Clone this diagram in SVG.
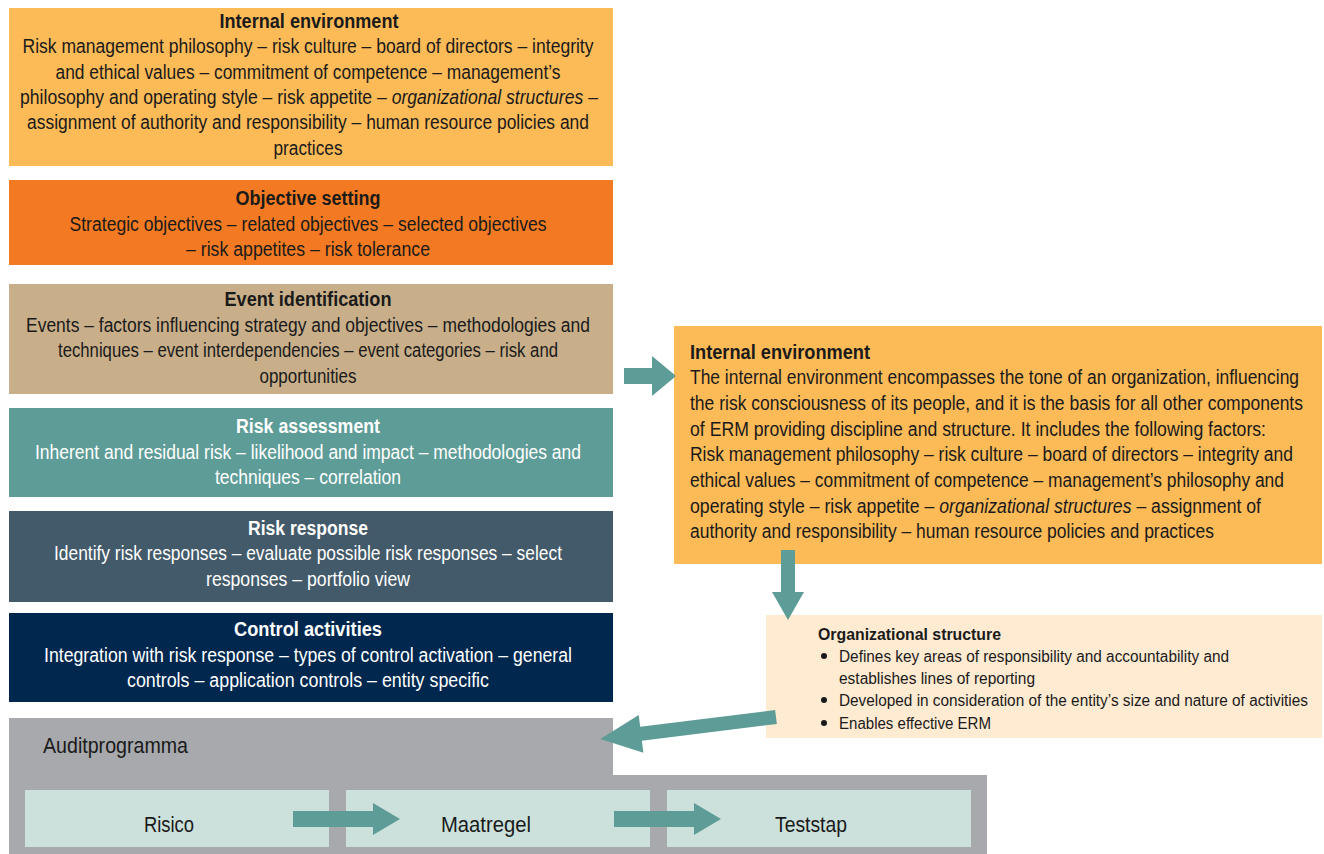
<svg xmlns="http://www.w3.org/2000/svg" width="1324" height="854" viewBox="0 0 1324 854">
  <style>
    text { font-family: "Liberation Sans", Arial, sans-serif; font-size: 19.5px; fill: #1a1a1a; }
    .c { text-anchor: middle; }
    .t { font-weight: bold; }
    .w { fill: #ffffff; }
    .i { font-style: italic; }
    .sm { font-size: 16px; }
    .lg { font-size: 21.5px; }
    .arrow { fill: #5E9C97; }
  </style>

  <!-- ERM component stack -->
  <g id="internal-environment">
    <rect x="9" y="8" width="604" height="158" fill="#FDBB58"/>
    <text class="c t" x="309" y="28" textLength="179" lengthAdjust="spacingAndGlyphs">Internal environment</text>
    <text class="c" x="308" y="53" textLength="571" lengthAdjust="spacingAndGlyphs">Risk management philosophy – risk culture – board of directors – integrity</text>
    <text class="c" x="308" y="79" textLength="505" lengthAdjust="spacingAndGlyphs">and ethical values – commitment of competence – management’s</text>
    <text class="c" x="309" y="104" textLength="578" lengthAdjust="spacingAndGlyphs">philosophy and operating style – risk appetite – <tspan class="i">organizational structures</tspan> –</text>
    <text class="c" x="308" y="129" textLength="562" lengthAdjust="spacingAndGlyphs">assignment of authority and responsibility – human resource policies and</text>
    <text class="c" x="308" y="155" textLength="69" lengthAdjust="spacingAndGlyphs">practices</text>
  </g>

  <g id="objective-setting">
    <rect x="9" y="180" width="604" height="85" fill="#F37A22"/>
    <text class="c t" x="308" y="205" textLength="145" lengthAdjust="spacingAndGlyphs">Objective setting</text>
    <text class="c" x="308" y="231" textLength="477" lengthAdjust="spacingAndGlyphs">Strategic objectives – related objectives – selected objectives</text>
    <text class="c" x="308" y="256" textLength="244" lengthAdjust="spacingAndGlyphs">– risk appetites – risk tolerance</text>
  </g>

  <g id="event-identification">
    <rect x="9" y="284" width="604" height="110" fill="#C8AF8A"/>
    <text class="c t" x="308" y="306" textLength="167" lengthAdjust="spacingAndGlyphs">Event identification</text>
    <text class="c" x="308" y="332" textLength="564" lengthAdjust="spacingAndGlyphs">Events – factors influencing strategy and objectives – methodologies and</text>
    <text class="c" x="308" y="357" textLength="500" lengthAdjust="spacingAndGlyphs">techniques – event interdependencies – event categories – risk and</text>
    <text class="c" x="308" y="383" textLength="97" lengthAdjust="spacingAndGlyphs">opportunities</text>
  </g>

  <g id="risk-assessment">
    <rect x="9" y="408" width="604" height="89" fill="#5E9C97"/>
    <text class="c t w" x="308" y="433" textLength="144" lengthAdjust="spacingAndGlyphs">Risk assessment</text>
    <text class="c w" x="308" y="459" textLength="546" lengthAdjust="spacingAndGlyphs">Inherent and residual risk – likelihood and impact – methodologies and</text>
    <text class="c w" x="308" y="484" textLength="186" lengthAdjust="spacingAndGlyphs">techniques – correlation</text>
  </g>

  <g id="risk-response">
    <rect x="9" y="511" width="604" height="91" fill="#435A6A"/>
    <text class="c t w" x="308" y="535" textLength="120" lengthAdjust="spacingAndGlyphs">Risk response</text>
    <text class="c w" x="308" y="560" textLength="508" lengthAdjust="spacingAndGlyphs">Identify risk responses – evaluate possible risk responses – select</text>
    <text class="c w" x="308" y="586" textLength="204" lengthAdjust="spacingAndGlyphs">responses – portfolio view</text>
  </g>

  <g id="control-activities">
    <rect x="9" y="613" width="604" height="89" fill="#00284F"/>
    <text class="c t w" x="308" y="636" textLength="148" lengthAdjust="spacingAndGlyphs">Control activities</text>
    <text class="c w" x="308" y="662" textLength="528" lengthAdjust="spacingAndGlyphs">Integration with risk response – types of control activation – general</text>
    <text class="c w" x="308" y="687" textLength="362" lengthAdjust="spacingAndGlyphs">controls – application controls – entity specific</text>
  </g>

  <!-- detail panel -->
  <g id="internal-environment-detail">
    <rect x="674" y="326" width="648" height="238" fill="#FDBB58"/>
    <text class="t" x="690" y="359" textLength="180" lengthAdjust="spacingAndGlyphs">Internal environment</text>
    <text x="690" y="384" textLength="609" lengthAdjust="spacingAndGlyphs">The internal environment encompasses the tone of an organization, influencing</text>
    <text x="690" y="410" textLength="613" lengthAdjust="spacingAndGlyphs">the risk consciousness of its people, and it is the basis for all other components</text>
    <text x="690" y="436" textLength="576" lengthAdjust="spacingAndGlyphs">of ERM providing discipline and structure. It includes the following factors:</text>
    <text x="690" y="461" textLength="603" lengthAdjust="spacingAndGlyphs">Risk management philosophy – risk culture – board of directors – integrity and</text>
    <text x="690" y="487" textLength="594" lengthAdjust="spacingAndGlyphs">ethical values – commitment of competence – management’s philosophy and</text>
    <text x="690" y="513" textLength="571" lengthAdjust="spacingAndGlyphs">operating style – risk appetite – <tspan class="i">organizational structures</tspan> – assignment of</text>
    <text x="690" y="538" textLength="524" lengthAdjust="spacingAndGlyphs">authority and responsibility – human resource policies and practices</text>
  </g>

  <g id="organizational-structure">
    <rect x="766" y="615" width="556" height="123" fill="#FEEBD2"/>
    <text class="t sm" x="818" y="640" textLength="183" lengthAdjust="spacingAndGlyphs">Organizational structure</text>
    <circle cx="824" cy="656" r="3" fill="#1a1a1a"/>
    <text class="sm" x="839" y="662" textLength="390" lengthAdjust="spacingAndGlyphs">Defines key areas of responsibility and accountability and</text>
    <text class="sm" x="839" y="684" textLength="196" lengthAdjust="spacingAndGlyphs">establishes lines of reporting</text>
    <circle cx="824" cy="700" r="3" fill="#1a1a1a"/>
    <text class="sm" x="839" y="706" textLength="469" lengthAdjust="spacingAndGlyphs">Developed in consideration of the entity’s size and nature of activities</text>
    <circle cx="824" cy="723" r="3" fill="#1a1a1a"/>
    <text class="sm" x="839" y="729" textLength="152" lengthAdjust="spacingAndGlyphs">Enables effective ERM</text>
  </g>

  <!-- audit programme -->
  <g id="auditprogramma">
    <path d="M9,718 H613 V775 H987 V854 H9 Z" fill="#A7A9AC"/>
    <text class="lg" x="43" y="753" textLength="145" lengthAdjust="spacingAndGlyphs">Auditprogramma</text>
  </g>
  <g id="risico">
    <rect x="25" y="790" width="304" height="57" fill="#CCE1DB"/>
    <text class="c lg" x="169" y="832" textLength="50" lengthAdjust="spacingAndGlyphs">Risico</text>
  </g>
  <g id="maatregel">
    <rect x="346" y="790" width="304" height="57" fill="#CCE1DB"/>
    <text class="c lg" x="486" y="832" textLength="90" lengthAdjust="spacingAndGlyphs">Maatregel</text>
  </g>
  <g id="teststap">
    <rect x="667" y="790" width="304" height="57" fill="#CCE1DB"/>
    <text class="c lg" x="811" y="832" textLength="72" lengthAdjust="spacingAndGlyphs">Teststap</text>
  </g>

  <!-- connectors -->
  <g id="connectors" class="arrow">
    <polygon points="624,368 652,368 652,356 676,376 652,396 652,384 624,384"/>
    <polygon points="781,550 795,550 795,592 804,592 788,620 772,592 781,592"/>
    <g transform="translate(776,717) rotate(172.9)">
      <polygon points="0,-7 136,-7 136,-19 177,0 136,19 136,7 0,7"/>
    </g>
    <polygon points="293,811 373,811 373,803 400,819 373,835 373,827 293,827"/>
    <polygon points="614,811 694,811 694,803 721,819 694,835 694,827 614,827"/>
  </g>
</svg>
